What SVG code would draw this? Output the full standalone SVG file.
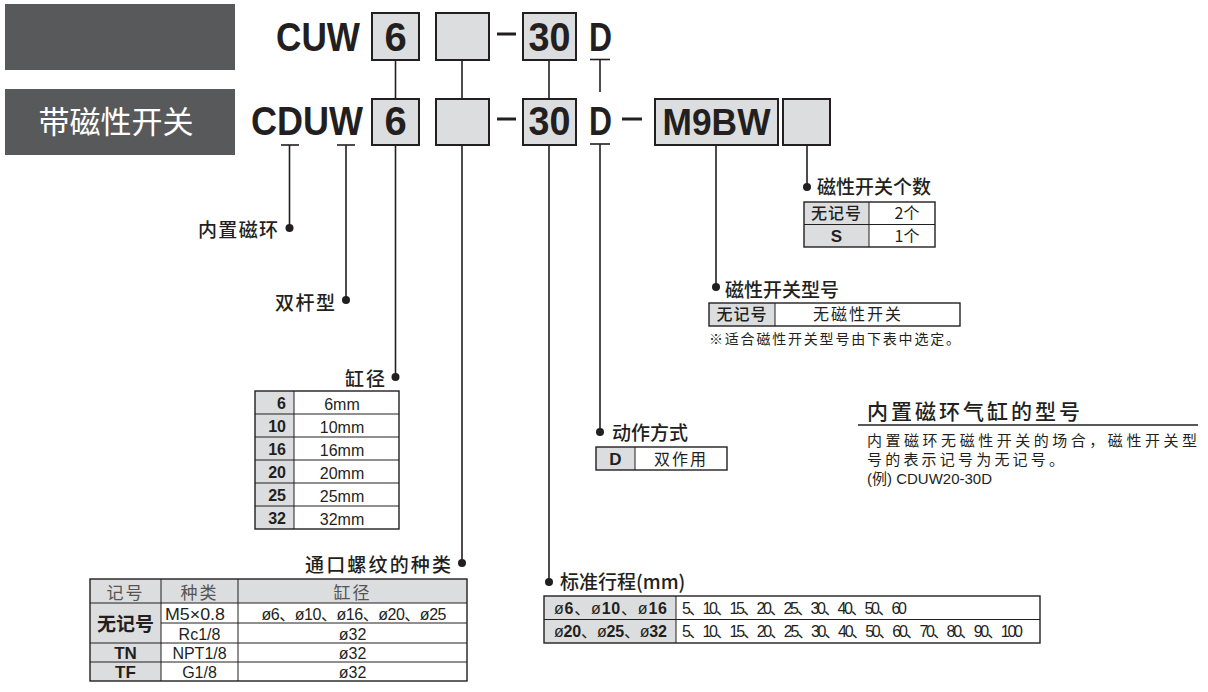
<svg xmlns="http://www.w3.org/2000/svg" width="1208" height="692" viewBox="0 0 1208 692">
<style>
.dark{fill:#58595b}
.box{fill:#dcddde;stroke:#231f20;stroke-width:2}
.code{font-family:"Liberation Sans",Arial,sans-serif;font-weight:bold;font-size:40px;fill:#231f20}
.ln{stroke:#231f20;stroke-width:1.6;fill:none}
.dash{fill:#231f20}
.dot{fill:#231f20}
.lbl{font-family:"Noto Sans CJK SC",sans-serif;font-size:19px;fill:#231f20;font-weight:500}
.cell{fill:#dcddde}
.tb{fill:none;stroke:#231f20;stroke-width:1.4}
.ti{stroke:#231f20;stroke-width:1}
.tx{font-family:"Liberation Sans","Noto Sans CJK SC",sans-serif;font-size:15px;fill:#231f20}
.cj{font-family:"Noto Sans CJK SC",sans-serif;font-size:15px;fill:#231f20}
.hd{fill:#555}
.b{font-weight:bold}
.c{text-anchor:middle}
.e{text-anchor:end}
.f14{font-size:14px}
.f15{font-size:15px}
.f16{font-size:16px}
.f17{font-size:17px}
.f19{font-size:19px}
</style>
<rect width="1208" height="692" fill="#fff"/>

<g id="header-plain">
<rect class="dark" x="5" y="4" width="230" height="66"/>
</g>
<g id="header-switch">
<rect class="dark" x="5" y="89" width="230" height="66"/>
<text x="116" y="133" text-anchor="middle" font-family="Noto Sans CJK SC, sans-serif" font-size="31" fill="#fff">带磁性开关</text>
</g>

<g id="row1">
<text class="code" x="276" y="51" textLength="84" lengthAdjust="spacingAndGlyphs">CUW</text>
<rect class="box" x="372" y="13" width="47" height="47"/>
<text class="code c" x="395.5" y="51">6</text>
<rect class="box" x="436" y="13" width="53" height="47"/>
<rect class="dash" x="497" y="32.5" width="19" height="3"/>
<rect class="box" x="523" y="13" width="53" height="47"/>
<text class="code c" x="549.5" y="51" textLength="42" lengthAdjust="spacingAndGlyphs">30</text>
<text class="code" x="589" y="51" textLength="23" lengthAdjust="spacingAndGlyphs">D</text>
</g>

<g id="row2">
<text class="code" x="251" y="135" textLength="112" lengthAdjust="spacingAndGlyphs">CDUW</text>
<rect class="box" x="372" y="99" width="47" height="46"/>
<text class="code c" x="395.5" y="135">6</text>
<rect class="box" x="436" y="99" width="53" height="46"/>
<rect class="dash" x="497" y="117.5" width="19" height="3"/>
<rect class="box" x="523" y="99" width="53" height="46"/>
<text class="code c" x="549.5" y="135" textLength="42" lengthAdjust="spacingAndGlyphs">30</text>
<text class="code" x="589" y="135" textLength="23" lengthAdjust="spacingAndGlyphs">D</text>
<rect class="dash" x="622" y="117.5" width="20" height="3"/>
<rect class="box" x="655" y="99" width="123" height="46"/>
<text class="code c" x="716.5" y="135" style="font-size:37px" textLength="108" lengthAdjust="spacingAndGlyphs">M9BW</text>
<rect class="box" x="783" y="99" width="47" height="46"/>
</g>

<g id="connectors">
<line class="ln" x1="395.5" y1="60" x2="395.5" y2="99"/>
<line class="ln" x1="462" y1="60" x2="462" y2="99"/>
<line class="ln" x1="549" y1="60" x2="549" y2="99"/>
<line class="ln" x1="590" y1="59.5" x2="610" y2="59.5"/>
<line class="ln" x1="600" y1="59.5" x2="600" y2="92"/>
<line class="ln" x1="281" y1="145" x2="299" y2="145"/>
<line class="ln" x1="289.5" y1="145" x2="289.5" y2="228"/>
<line class="ln" x1="337" y1="145" x2="355" y2="145"/>
<line class="ln" x1="346" y1="145" x2="346" y2="300"/>
<line class="ln" x1="395.5" y1="145" x2="395.5" y2="377"/>
<line class="ln" x1="462" y1="145" x2="462" y2="563"/>
<line class="ln" x1="549" y1="145" x2="549" y2="582"/>
<line class="ln" x1="590" y1="144" x2="610" y2="144"/>
<line class="ln" x1="600" y1="144" x2="600" y2="432"/>
<line class="ln" x1="716" y1="145" x2="716" y2="287"/>
<line class="ln" x1="807" y1="145" x2="807" y2="187"/>
<circle class="dot" cx="289.5" cy="228" r="4"/>
<circle class="dot" cx="346" cy="300" r="4"/>
<circle class="dot" cx="395.5" cy="377" r="4"/>
<circle class="dot" cx="462" cy="563" r="4"/>
<circle class="dot" cx="549" cy="582" r="4"/>
<circle class="dot" cx="600" cy="432" r="4"/>
<circle class="dot" cx="716" cy="287" r="4"/>
<circle class="dot" cx="807" cy="187" r="4"/>
</g>

<g id="magnet">
<text class="lbl e" x="278" y="237" textLength="80">内置磁环</text>
</g>
<g id="double-rod">
<text class="lbl e" x="335" y="310" textLength="60">双杆型</text>
</g>

<g id="bore">
<text class="lbl e" x="385" y="386" textLength="40">缸径</text>
<rect class="cell" x="255" y="391" width="39" height="138"/>
<g class="ti">
<line x1="255" y1="414" x2="399" y2="414"/>
<line x1="255" y1="437" x2="399" y2="437"/>
<line x1="255" y1="460" x2="399" y2="460"/>
<line x1="255" y1="483" x2="399" y2="483"/>
<line x1="255" y1="506" x2="399" y2="506"/>
<line x1="294" y1="391" x2="294" y2="529"/>
</g>
<rect class="tb" x="255" y="391" width="144" height="138"/>
<g>
<text class="tx f16 b e" x="286" y="409">6</text><text class="tx f16 c" x="342" y="410">6mm</text>
<text class="tx f16 b e" x="286" y="432">10</text><text class="tx f16 c" x="342" y="433">10mm</text>
<text class="tx f16 b e" x="286" y="455">16</text><text class="tx f16 c" x="342" y="456">16mm</text>
<text class="tx f16 b e" x="286" y="478">20</text><text class="tx f16 c" x="342" y="479">20mm</text>
<text class="tx f16 b e" x="286" y="501">25</text><text class="tx f16 c" x="342" y="502">25mm</text>
<text class="tx f16 b e" x="286" y="524">32</text><text class="tx f16 c" x="342" y="525">32mm</text>
</g>
</g>

<g id="port">
<text class="lbl e" x="451" y="572" textLength="146">通口螺纹的种类</text>
<rect class="cell" x="90" y="579" width="377" height="24"/>
<rect class="cell" x="90" y="603" width="71" height="78"/>
<g class="ti">
<line x1="90" y1="603" x2="467" y2="603"/>
<line x1="161" y1="623" x2="467" y2="623"/>
<line x1="90" y1="643" x2="467" y2="643"/>
<line x1="90" y1="662" x2="467" y2="662"/>
<line x1="161" y1="579" x2="161" y2="681"/>
<line x1="238" y1="579" x2="238" y2="681"/>
</g>
<rect class="tb" x="90" y="579" width="377" height="102"/>
<text class="cj hd f17 c" x="125.5" y="599" letter-spacing="2">记号</text>
<text class="cj hd f17 c" x="199.5" y="599" letter-spacing="2">种类</text>
<text class="cj hd f17 c" x="352.5" y="599" letter-spacing="2">缸径</text>
<text class="cj b c f19" x="125.5" y="631">无记号</text>
<text class="tx f16 c" x="195" y="620" textLength="60" lengthAdjust="spacingAndGlyphs">M5×0.8</text>
<text class="tx f16 c" x="354" y="620" textLength="185" lengthAdjust="spacing">ø6、ø10、ø16、ø20、ø25</text>
<text class="tx f16 c" x="199.5" y="640">Rc1/8</text>
<text class="tx f16 c" x="352.5" y="640">ø32</text>
<text class="tx b c f17" x="125.5" y="659">TN</text>
<text class="tx f16 c" x="199.5" y="659">NPT1/8</text>
<text class="tx f16 c" x="352.5" y="659">ø32</text>
<text class="tx b c f17" x="125.5" y="678">TF</text>
<text class="tx f16 c" x="199.5" y="678">G1/8</text>
<text class="tx f16 c" x="352.5" y="678">ø32</text>
</g>

<g id="stroke">
<text class="lbl" x="560" y="589">标准行程(mm)</text>
<rect class="cell" x="544" y="596" width="132" height="47"/>
<g class="ti">
<line x1="544" y1="619.5" x2="1040" y2="619.5"/>
<line x1="676" y1="596" x2="676" y2="643"/>
</g>
<rect class="tb" x="544" y="596" width="496" height="47"/>
<text class="tx f16" x="554" y="614" textLength="113" lengthAdjust="spacing">ø<tspan class="b">6</tspan>、ø<tspan class="b">10</tspan>、ø<tspan class="b">16</tspan></text>
<text class="tx f16" x="554" y="637" textLength="113" lengthAdjust="spacing">ø<tspan class="b">20</tspan>、ø<tspan class="b">25</tspan>、ø<tspan class="b">32</tspan></text>
<text class="tx f16" x="682" y="614" textLength="225" lengthAdjust="spacing">5、10、15、20、25、30、40、50、60</text>
<text class="tx f16" x="682" y="637" textLength="341" lengthAdjust="spacing">5、10、15、20、25、30、40、50、60、70、80、90、100</text>
</g>

<g id="action">
<text class="lbl" x="612" y="440">动作方式</text>
<rect class="cell" x="596" y="447" width="39" height="23"/>
<line class="ti" x1="635" y1="447" x2="635" y2="470"/>
<rect class="tb" x="596" y="447" width="131" height="23"/>
<text class="tx b c f17" x="615.5" y="465">D</text>
<text class="cj c f16" x="681" y="465" letter-spacing="2">双作用</text>
</g>

<g id="switch-model">
<text class="lbl" x="725" y="297">磁性开关型号</text>
<rect class="cell" x="709" y="303" width="66" height="23"/>
<line class="ti" x1="775" y1="303" x2="775" y2="326"/>
<rect class="tb" x="709" y="303" width="251" height="23"/>
<text class="cj c f16" x="742" y="320" letter-spacing="1" font-weight="500">无记号</text>
<text class="cj c f16" x="858" y="320" letter-spacing="2">无磁性开关</text>
<text class="cj f14" x="709" y="344" textLength="251">※适合磁性开关型号由下表中选定。</text>
</g>

<g id="switch-qty">
<text class="lbl" x="817" y="194">磁性开关个数</text>
<rect class="cell" x="804" y="202" width="65" height="45"/>
<g class="ti">
<line x1="804" y1="224.5" x2="935" y2="224.5"/>
<line x1="869" y1="202" x2="869" y2="247"/>
</g>
<rect class="tb" x="804" y="202" width="131" height="45"/>
<text class="cj c f16" x="836.5" y="219" letter-spacing="1" font-weight="500">无记号</text>
<text class="cj c f16" x="907" y="219">2个</text>
<text class="tx b c f17" x="836.5" y="242">S</text>
<text class="cj c f16" x="907" y="242">1个</text>
</g>

<g id="note">
<text x="867" y="419" font-family="Noto Sans CJK SC, sans-serif" font-size="21" font-weight="500" fill="#231f20" textLength="213">内置磁环气缸的型号</text>
<line x1="858" y1="425" x2="1198" y2="425" stroke="#231f20" stroke-width="1.6"/>
<text class="cj f15" x="867" y="446" textLength="330">内置磁环无磁性开关的场合，磁性开关型</text>
<text class="cj f15" x="867" y="465" letter-spacing="3.2">号的表示记号为无记号。</text>
<text class="tx f15" x="867" y="484">(例) CDUW20-30D</text>
</g>
</svg>
